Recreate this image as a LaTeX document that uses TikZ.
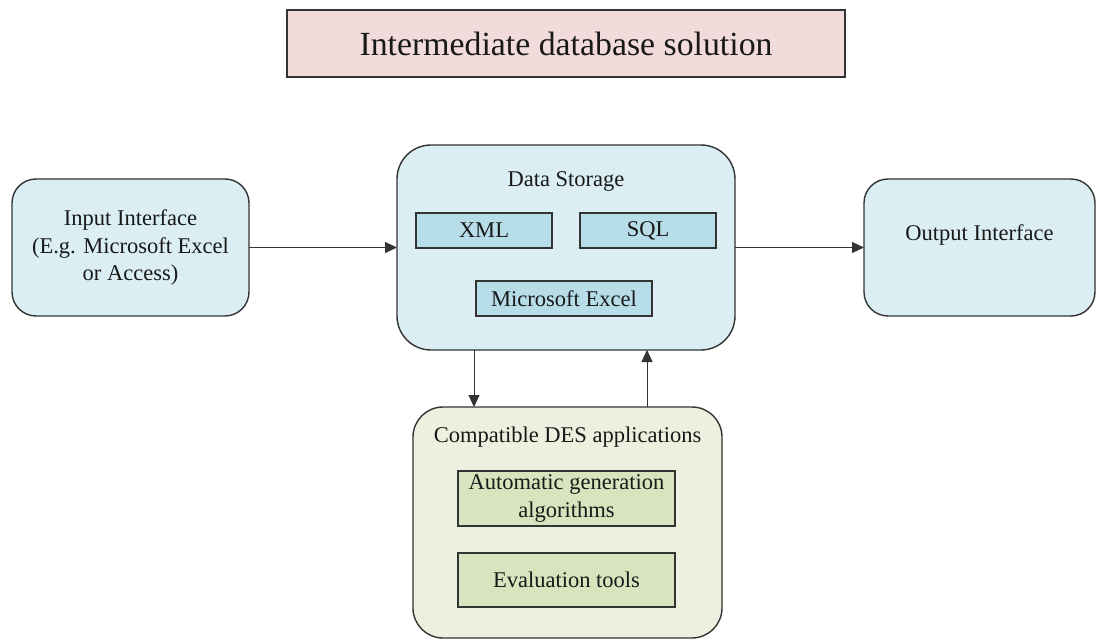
\documentclass[tikz,border=0pt]{standalone}
\usepackage{fontspec}
\setmainfont{Liberation Serif}
\usetikzlibrary{arrows.meta}
\definecolor{titlefill}{HTML}{F2DCDB}
\definecolor{bluefill}{HTML}{DBEEF4}
\definecolor{blueinner}{HTML}{B7DDE8}
\definecolor{greenfill}{HTML}{EBF1DE}
\definecolor{greeninner}{HTML}{D7E4BD}
\definecolor{edge}{HTML}{333333}
\tikzset{
  box/.style={draw=edge, line width=1.4pt, inner sep=0pt, outer sep=0pt},
  innerbox/.style={draw=edge, line width=1.1pt, inner sep=0pt, outer sep=0pt, align=center},
  txt/.style={font=\fontsize{22.5}{27.5}\selectfont, text=black!90, align=center, inner sep=0pt},
  arr/.style={draw=black!80, line width=1pt, -{Triangle[length=12pt,width=11pt]}}
}
\begin{document}
\begin{tikzpicture}[x=1pt,y=-1pt]
\useasboundingbox (0,0) rectangle (1096,639);
% title
\node[box, line width=2pt, fill=titlefill, minimum width=558pt, minimum height=67pt, font=\fontsize{33.8}{40}\selectfont, text=black!90] (title) at (566,43.5) {Intermediate database solution};
% input
\node[box, fill=bluefill, rounded corners=24pt, minimum width=237pt, minimum height=137pt, txt] (input) at (130.5,247.5) {Input Interface\\(E.g. Microsoft Excel\\or Access)};
% data storage
\node[box, fill=bluefill, rounded corners=34pt, minimum width=338pt, minimum height=205pt] (store) at (566,247.5) {};
\node[txt] (storet) at (566,181) {Data Storage};
\node[innerbox, fill=blueinner, minimum width=136pt, minimum height=35pt, txt] (xml) at (484,230.5) {XML};
\node[innerbox, fill=blueinner, minimum width=136pt, minimum height=35pt, txt] (sql) at (648,230.5) {SQL};
\node[innerbox, fill=blueinner, minimum width=176pt, minimum height=35pt, txt] (excel) at (564,298.5) {Microsoft Excel};
% output
\node[box, fill=bluefill, rounded corners=24pt, minimum width=231pt, minimum height=137pt] (output) at (979.5,247.5) {};
\node[txt] (outputt) at (979.5,235) {Output Interface};
% DES
\node[box, fill=greenfill, rounded corners=30pt, minimum width=309pt, minimum height=231pt] (des) at (567.5,522.5) {};
\node[txt] (dest) at (567.5,437) {Compatible DES applications};
\node[innerbox, fill=greeninner, minimum width=217pt, minimum height=55pt, txt] (auto) at (566.5,498.5) {Automatic generation\\algorithms};
\node[innerbox, fill=greeninner, minimum width=217pt, minimum height=54pt, txt] (eval) at (566.5,580) {Evaluation tools};
% connectors
\draw[arr] (input.east) -- (input.east -| store.west);
\draw[arr] (store.east |- output.west) -- (output.west);
\coordinate (dx) at (474,0);
\coordinate (ux) at (647,0);
\draw[arr] (store.south -| dx) -- (des.north -| dx);
\draw[arr] (des.north -| ux) -- (store.south -| ux);
\end{tikzpicture}
\end{document}
